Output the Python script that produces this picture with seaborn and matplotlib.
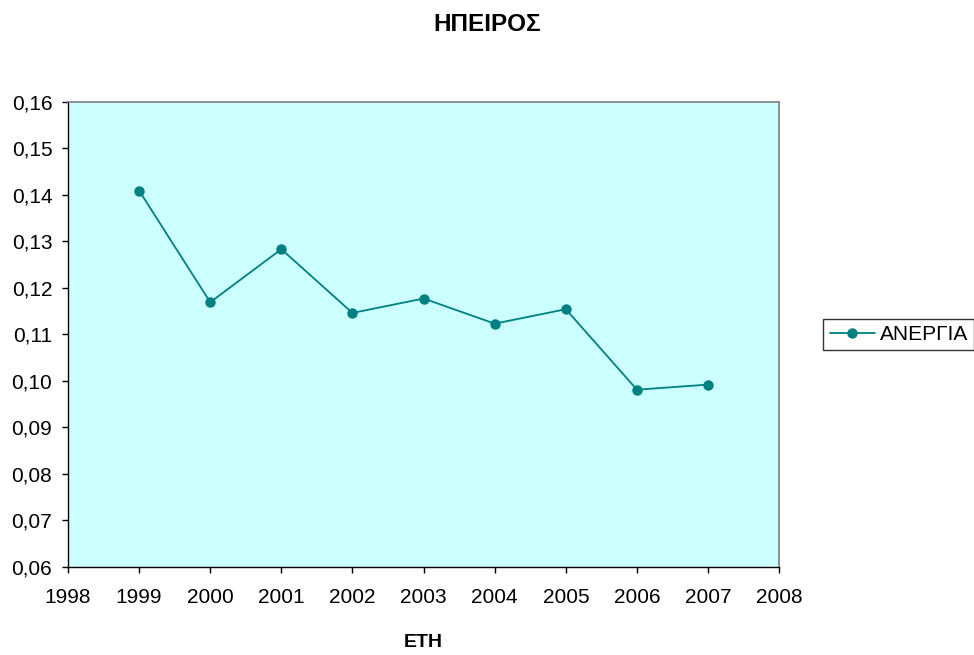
import matplotlib
matplotlib.use('Agg')
import matplotlib.pyplot as plt
import seaborn as sns
import pandas as pd
from matplotlib.ticker import FuncFormatter, MultipleLocator

years = [1999, 2000, 2001, 2002, 2003, 2004, 2005, 2006, 2007]
anergia = [0.1409, 0.1169, 0.1283, 0.1146, 0.1177, 0.1123, 0.1154, 0.0981, 0.0992]

df = pd.DataFrame({'ΕΤΗ': years, 'ΑΝΕΡΓΙΑ': anergia})

sns.set_style("white")
plt.rcParams['font.family'] = ['Liberation Sans', 'DejaVu Sans']
plt.rcParams['text.color'] = 'black'
plt.rcParams['axes.labelcolor'] = 'black'

fig = plt.figure(figsize=(9.74, 6.55), dpi=100)
ax = fig.add_axes([0.0698, 0.1344, 0.7302, 0.7103])
ax.set_facecolor('#CCFFFF')

sns.lineplot(data=df, x='ΕΤΗ', y='ΑΝΕΡΓΙΑ', ax=ax, color='#008080', marker='o',
             markersize=7.5, markeredgewidth=0, linewidth=1.3, label='ΑΝΕΡΓΙΑ')

ax.set_xlim(1998, 2008)
ax.set_ylim(0.06, 0.16)
ax.xaxis.set_major_locator(MultipleLocator(1))
ax.yaxis.set_major_locator(MultipleLocator(0.01))
ax.yaxis.set_major_formatter(FuncFormatter(lambda v, p: f'{v:.2f}'.replace('.', ',')))
ax.tick_params(axis='both', direction='out', length=4.3, width=1, colors='black',
               labelsize=15, bottom=True, left=True)
ax.tick_params(axis='x', pad=11)
ax.tick_params(axis='y', pad=7)

for side in ['top', 'right']:
    ax.spines[side].set_color('#808080')
    ax.spines[side].set_linewidth(1.2)
for side in ['left', 'bottom']:
    ax.spines[side].set_color('black')
    ax.spines[side].set_linewidth(1)

ax.set_xlabel('ΕΤΗ', fontsize=14, fontweight='bold', color='black')
ax.xaxis.set_label_coords(0.5, -0.144)
ax.set_ylabel('')
fig.text(0.5, 0.962, 'ΗΠΕΙΡΟΣ', fontsize=17.5, fontweight='bold', ha='center',
         va='center', color='black')

leg = ax.legend(loc='center left', bbox_to_anchor=(1.062, 0.5), fontsize=15,
                frameon=True, fancybox=False, borderpad=0.3, handlelength=2.2,
                handletextpad=0.2, borderaxespad=0, labelcolor='black')
leg.get_frame().set_edgecolor('black')
leg.get_frame().set_linewidth(1)

fig.savefig('out.png', dpi=100)
